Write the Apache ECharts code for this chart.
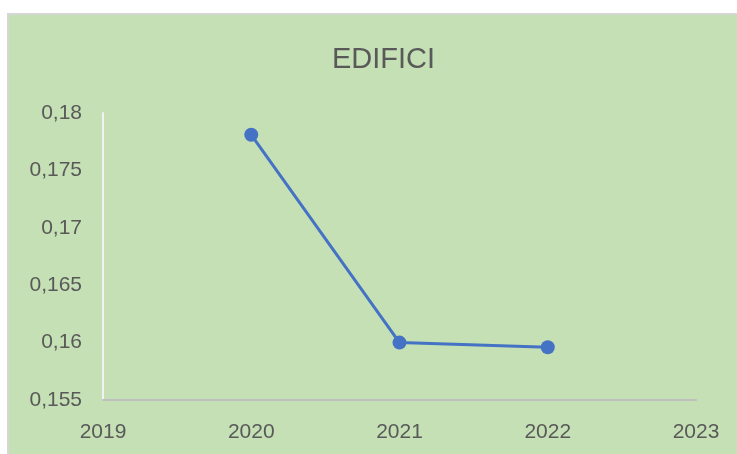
<!DOCTYPE html>
<html>
<head>
<meta charset="utf-8">
<script src="https://cdn.jsdelivr.net/npm/echarts@6/dist/echarts.min.js"></script>
<style>
  html, body { margin: 0; padding: 0; background: #ffffff; }
  #wrap { position: relative; width: 737px; height: 454px; overflow: hidden; }
  #panel { position: absolute; left: 7px; top: 13px; width: 730px; height: 441px;
           background: #C5E0B4; border-top: 2px solid #D6D6D6; border-left: 2px solid #D6D6D6; box-sizing: border-box; }
  #chart { position: absolute; left: 0; top: 0; width: 737px; height: 454px; }
</style>
</head>
<body>
<div id="wrap">
  <div id="panel"></div>
  <div id="chart"></div>
</div>
<script>
const titleText = 'EDIFICI';
const years = [2020, 2021, 2022];
const values = [0.1781, 0.1600, 0.1596];
const xMin = 2019, xMax = 2023, xStep = 1;
const yMin = 0.155, yMax = 0.18, yStep = 0.005;

const chart = echarts.init(document.getElementById('chart'), null, { renderer: 'canvas' });
const font = '"Liberation Sans", Arial, sans-serif';
chart.setOption({
  backgroundColor: 'transparent',
  animation: false,
  title: {
    text: titleText,
    left: 327, top: 40,
    textStyle: { fontFamily: font, fontSize: 29, fontWeight: 'normal', color: '#595959' }
  },
  grid: { left: 103, right: 41, top: 113, bottom: 54 },
  xAxis: {
    type: 'value', min: xMin, max: xMax, interval: xStep,
    axisLine: { show: true, onZero: false, lineStyle: { color: '#BFBFBF', width: 2 } },
    axisTick: { show: false },
    splitLine: { show: false },
    axisLabel: { margin: 22, fontFamily: font, fontSize: 21, color: '#595959',
                 formatter: v => String(v) }
  },
  yAxis: {
    type: 'value', min: yMin, max: yMax, interval: yStep,
    axisLine: { show: true, lineStyle: { color: '#F2F2F2', width: 2 } },
    axisTick: { show: false },
    splitLine: { show: false },
    axisLabel: { margin: 21, fontFamily: font, fontSize: 21, color: '#595959',
                 formatter: v => parseFloat(v.toFixed(4)).toString().replace('.', ',') }
  },
  series: [{
    type: 'line',
    data: years.map((y, i) => [y, values[i]]),
    symbol: 'circle', symbolSize: 14,
    lineStyle: { color: '#4472C4', width: 3 },
    itemStyle: { color: '#4472C4' }
  }]
});
</script>
</body>
</html>
